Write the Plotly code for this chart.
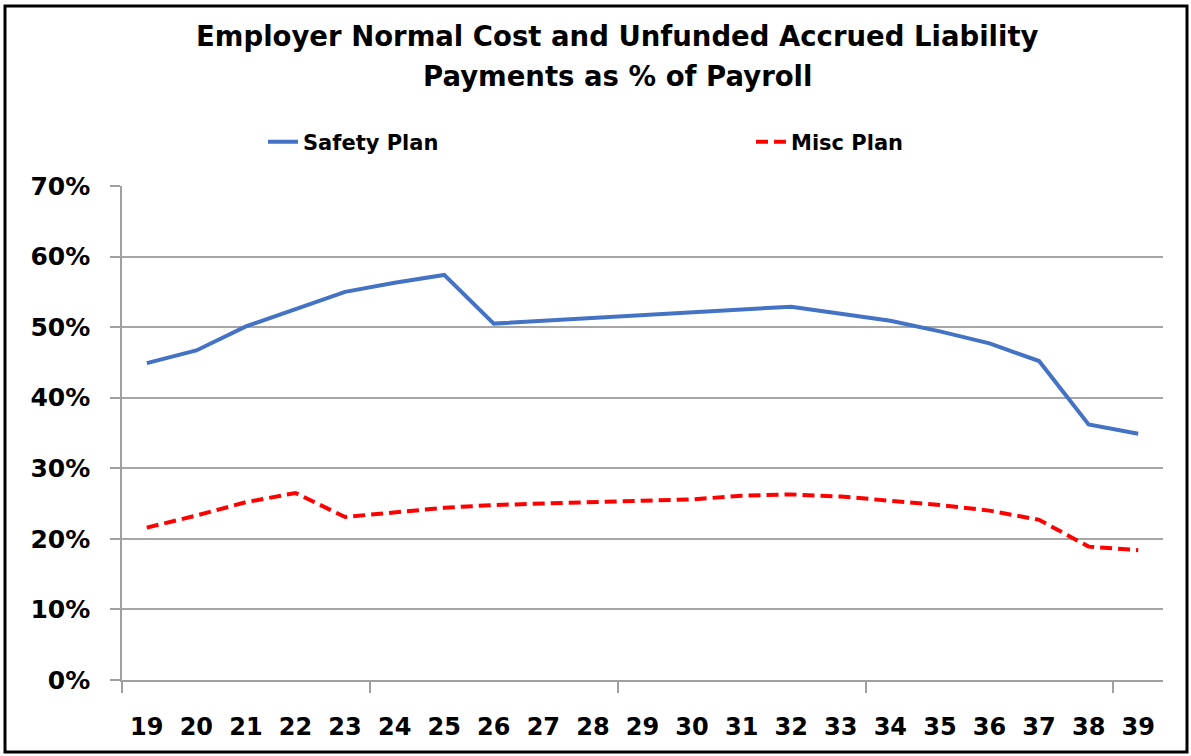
import plotly.graph_objects as go

years = [str(y) for y in range(19, 40)]
safety = [44.9, 46.7, 50.1, 52.6, 55.0, 56.3, 57.4, 50.5, 50.9, 51.3, 51.7,
          52.1, 52.4, 52.9, 51.9, 50.9, 49.4, 47.7, 45.2, 36.2, 34.9]
misc = [21.6, 23.3, 25.2, 26.5, 23.1, 23.8, 24.4, 24.8, 25.0, 25.2, 25.5,
        25.6, 26.1, 26.3, 26.0, 25.4, 24.8, 24.0, 22.7, 18.9, 18.4]
y_ticks = [0, 10, 20, 30, 40, 50, 60, 70]
series_names = ["Safety Plan", "Misc Plan"]
title_lines = ["Employer Normal Cost and Unfunded Accrued Liability",
               "Payments as % of Payroll"]

W, H = 1191, 756
L, R, T, B = 122, 1163, 186, 680
FONT = "DejaVu Sans"

xs = list(range(len(years)))


def px_x(p):
    return (p - L) / (R - L)


def px_y(p):
    return (B - p) / (B - T)


fig = go.Figure()
fig.add_trace(go.Scatter(x=xs, y=safety, mode="lines", name=series_names[0],
                         line=dict(color="#4472C4", width=4), legend="legend"))
fig.add_trace(go.Scatter(x=xs, y=misc, mode="lines", name=series_names[1],
                         line=dict(color="#FF0000", width=4, dash="12px,6px"),
                         legend="legend2"))

leg_font = dict(size=21, family=FONT, color="black", weight="bold")

fig.update_layout(
    width=W, height=H,
    margin=dict(l=L, r=W - R, t=T, b=H - B, pad=0),
    paper_bgcolor="white", plot_bgcolor="white",
    font=dict(family=FONT, color="black"),
    legend=dict(orientation="h", x=px_x(263), xanchor="left", y=px_y(142),
                yanchor="middle", font=leg_font, bgcolor="rgba(0,0,0,0)"),
    legend2=dict(orientation="h", x=px_x(751), xanchor="left", y=px_y(142),
                 yanchor="middle", font=leg_font, bgcolor="rgba(0,0,0,0)"),
    showlegend=True,
    xaxis=dict(
        range=[-0.5, len(years) - 0.5],
        tickmode="array", tickvals=xs, ticktext=years,
        ticks="", showgrid=False, zeroline=False,
        showline=True, linecolor="#A0A0A0", linewidth=1.5,
        tickfont=dict(size=24, family=FONT, color="black", weight="bold"),
        ticklabelstandoff=24,
        minor=dict(tickmode="array", tickvals=[-0.5, 4.5, 9.5, 14.5, 19.5],
                   ticks="outside", ticklen=11, tickcolor="#A0A0A0", tickwidth=1.5,
                   showgrid=False),
    ),
    yaxis=dict(
        range=[0, 70], tickmode="array", tickvals=y_ticks,
        ticktext=[f"{v}%" for v in y_ticks],
        ticks="outside", ticklen=10, tickcolor="#A0A0A0", tickwidth=1.5,
        showgrid=True, gridcolor="#A6A6A6", gridwidth=1.5,
        zeroline=False, showline=True, linecolor="#A0A0A0", linewidth=1.5,
        tickfont=dict(size=25, family=FONT, color="black", weight="bold"),
        ticklabelstandoff=15,
    ),
    annotations=[
        dict(text=title_lines[0], xref="paper", yref="paper",
             x=px_x(617), y=px_y(36), xanchor="center", yanchor="middle",
             showarrow=False, font=dict(size=27.5, family=FONT, color="black", weight="bold")),
        dict(text=title_lines[1], xref="paper", yref="paper",
             x=px_x(617), y=px_y(76), xanchor="center", yanchor="middle",
             showarrow=False, font=dict(size=27.5, family=FONT, color="black", weight="bold")),
    ],
    shapes=[
        dict(type="rect", xref="paper", yref="paper",
             x0=px_x(5), x1=px_x(1187), y0=px_y(752), y1=px_y(6),
             line=dict(color="black", width=3), fillcolor="rgba(0,0,0,0)", layer="above"),
    ],
)

fig.write_html("out.html", config={"displayModeBar": False},
               post_script="document.body.style.margin='0';document.body.style.overflow='hidden';")
